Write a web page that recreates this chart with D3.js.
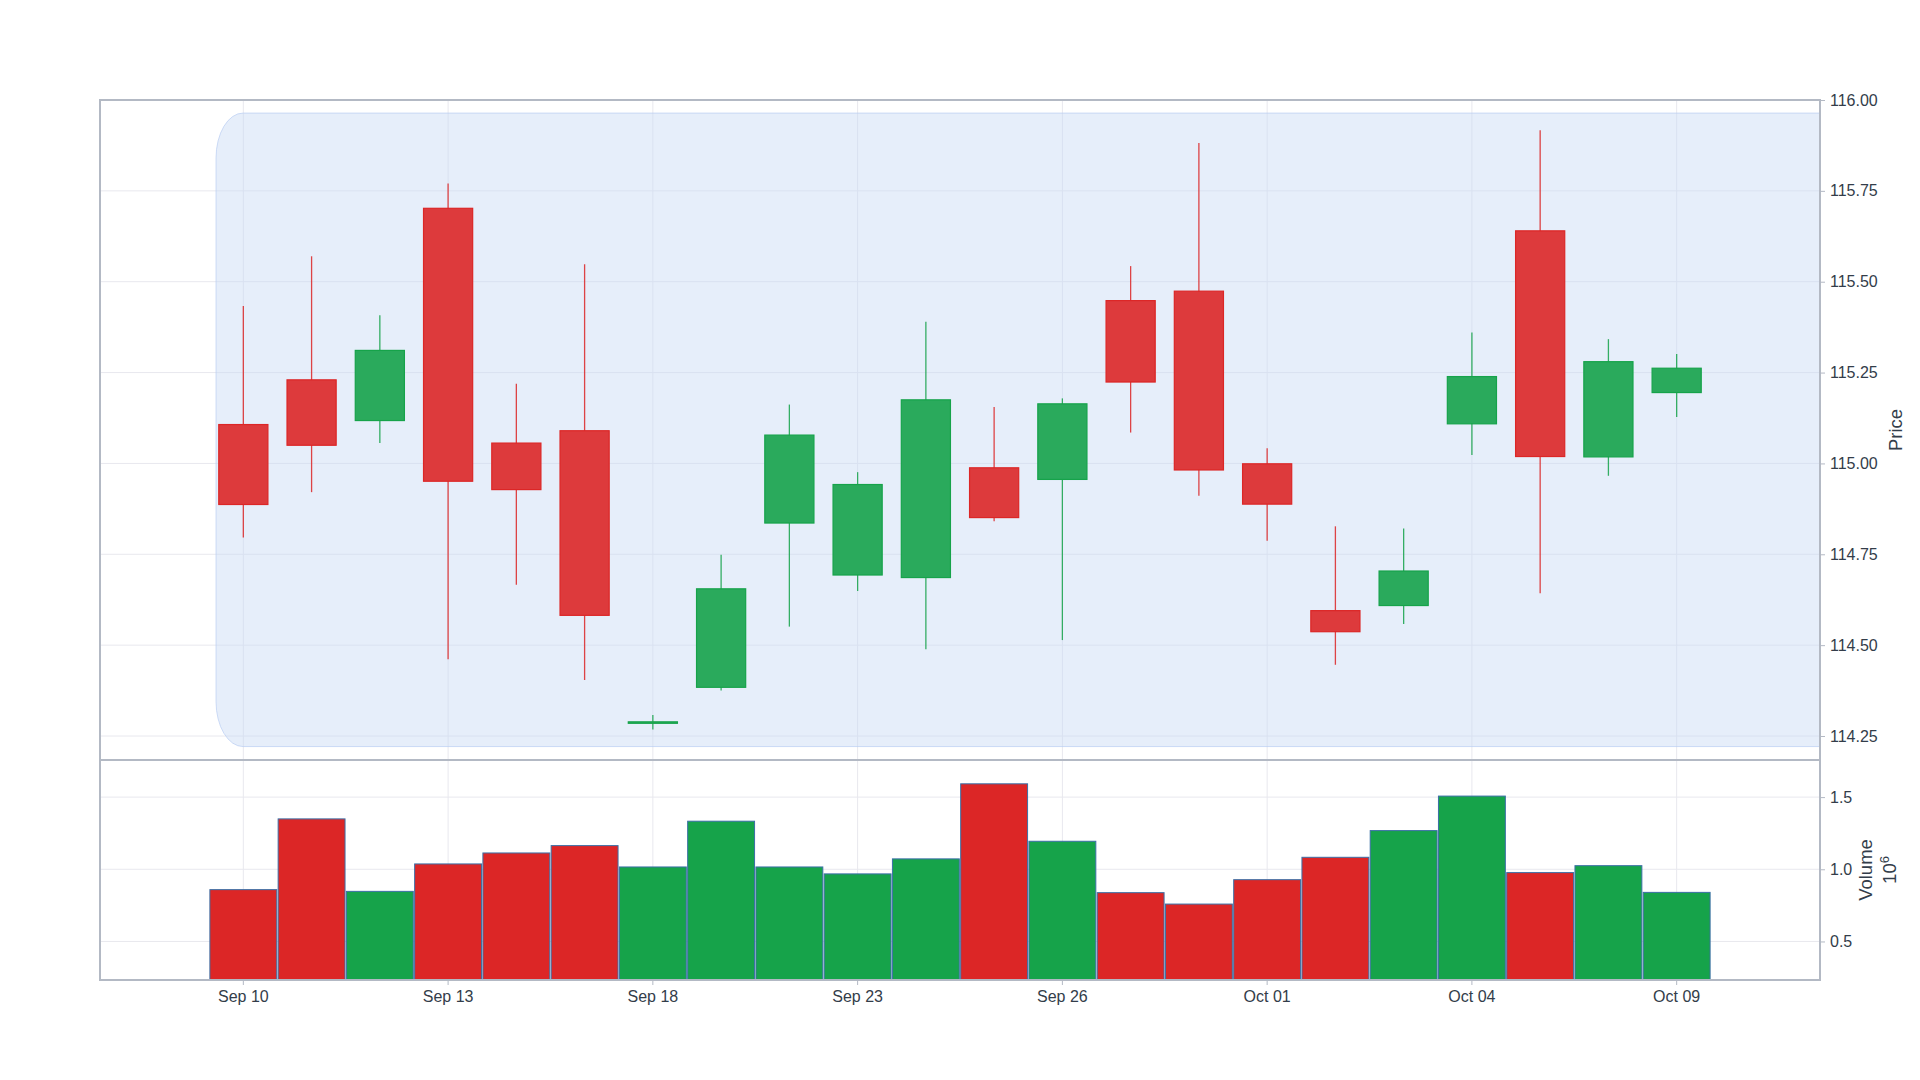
<!DOCTYPE html>
<html>
<head>
<meta charset="utf-8">
<script src="https://d3js.org/d3.v7.min.js"></script>
<style>
    html, body { margin: 0; padding: 0; background: #fff; }
    svg { display: block; font-family: "Liberation Sans", Arial, Helvetica, sans-serif; }
</style>
</head>
<body>
<div id="chart"></div>
<script>
// Trading days (category axis, weekends skipped)
const dates = [
    '2019-09-10', '2019-09-11', '2019-09-12', '2019-09-13', '2019-09-16', '2019-09-17',
    '2019-09-18', '2019-09-19', '2019-09-20', '2019-09-23', '2019-09-24', '2019-09-25',
    '2019-09-26', '2019-09-27', '2019-09-30', '2019-10-01', '2019-10-02', '2019-10-03',
    '2019-10-04', '2019-10-07', '2019-10-08', '2019-10-09'
];

const open = [115.107, 115.230, 115.118, 115.702, 115.056, 115.090, 114.285, 114.384, 114.836, 114.693, 114.686,
              114.988, 114.956, 115.448, 115.474, 114.999, 114.595, 114.609, 115.109, 115.640, 115.018, 115.195];
const high = [115.433, 115.570, 115.408, 115.770, 115.219, 115.548, 114.308, 114.749, 115.162, 114.976, 115.390,
              115.155, 115.179, 115.543, 115.882, 115.042, 114.827, 114.821, 115.360, 115.917, 115.342, 115.301];
const low = [114.796, 114.921, 115.056, 114.461, 114.666, 114.404, 114.268, 114.375, 114.551, 114.649, 114.489,
             114.841, 114.514, 115.085, 114.911, 114.787, 114.446, 114.558, 115.023, 114.643, 114.966, 115.128];
const close = [114.887, 115.050, 115.311, 114.951, 114.928, 114.582, 114.289, 114.655, 115.078, 114.942, 115.175,
               114.851, 115.164, 115.224, 114.982, 114.888, 114.537, 114.704, 115.239, 115.019, 115.280, 115.262];
const volume = [859000, 1349000, 847000, 1037000, 1113000, 1164000, 1016000, 1333000, 1016000, 968000, 1072000,
                1592000, 1194000, 838000, 759000, 928000, 1083000, 1268000, 1507000, 977000, 1025000, 840000];

// Axis ticks
const priceTicks = [114.25, 114.5, 114.75, 115, 115.25, 115.5, 115.75, 116];
const volumeTicks = [500000, 1000000, 1500000];
const dateTickEvery = 3;

// Range band padding around the min low / max high
const bandPad = 0.047;

const COLORS = {
    up: '#2aaa5c', upLine: '#16a34a',
    down: '#dd3a3c', downLine: '#dc2626',
    volUp: '#16a34a', volDown: '#dc2626', volEdge: '#3b6fa6',
    grid: '#e8e8ee', axis: '#b3b9c4', text: '#333d4a'
};

/**
 * Draw the candlestick + volume chart
 */
function drawChart(container) {
    const width = 1920, height = 1080;
    const margin = { left: 100, right: 100, top: 100 };
    const priceBottom = 760;
    const volumeBottom = 980;
    const plotRight = width - margin.right;

    const svg = d3.select(container)
        .append('svg')
        .attr('width', width)
        .attr('height', height);

    // Scales
    const x = d3.scaleBand()
        .domain(dates)
        .range([margin.left, plotRight])
        .paddingInner(0)
        .paddingOuter(1.6);
    const cx = d => x(d) + x.bandwidth() / 2;

    const y = d3.scaleLinear()
        .domain([114.184, 116.0])
        .range([priceBottom, margin.top]);

    const yVol = d3.scaleLinear()
        .domain([233000, 1757000])
        .range([volumeBottom, priceBottom]);

    const parse = d3.timeParse('%Y-%m-%d');
    const fmt = d3.timeFormat('%b %d');
    const dateTicks = dates.filter((d, i) => i % dateTickEvery === 0);

    const candles = dates.map((d, i) => ({
        date: d, o: open[i], h: high[i], l: low[i], c: close[i], v: volume[i], up: close[i] >= open[i]
    }));

    const defs = svg.append('defs');
    defs.append('clipPath').attr('id', 'clip-price')
        .append('rect')
        .attr('x', margin.left).attr('y', margin.top)
        .attr('width', plotRight - margin.left).attr('height', priceBottom - margin.top);
    defs.append('clipPath').attr('id', 'clip-vol')
        .append('rect')
        .attr('x', margin.left).attr('y', priceBottom)
        .attr('width', plotRight - margin.left).attr('height', volumeBottom - priceBottom);

    // Grid lines
    const grid = svg.append('g');
    grid.selectAll('.vgrid')
        .data(dateTicks)
        .enter()
        .append('line')
        .attr('x1', d => cx(d)).attr('x2', d => cx(d))
        .attr('y1', margin.top).attr('y2', volumeBottom)
        .attr('stroke', COLORS.grid).attr('stroke-width', 1);
    grid.selectAll('.pgrid')
        .data(priceTicks.filter(t => t < 116))
        .enter()
        .append('line')
        .attr('x1', margin.left).attr('x2', plotRight)
        .attr('y1', d => y(d)).attr('y2', d => y(d))
        .attr('stroke', COLORS.grid).attr('stroke-width', 1);
    grid.selectAll('.vgridv')
        .data(volumeTicks)
        .enter()
        .append('line')
        .attr('x1', margin.left).attr('x2', plotRight)
        .attr('y1', d => yVol(d)).attr('y2', d => yVol(d))
        .attr('stroke', COLORS.grid).attr('stroke-width', 1);

    // Range band (rounded on the left, runs off the right edge)
    const bandTop = y(d3.max(high) + bandPad);
    const bandBot = y(d3.min(low) - bandPad);
    const bx0 = cx(dates[0]) - x.step() * 0.4;
    const bx1 = plotRight + 40;
    const rx = 27, ry = 45;
    const bandPath = `M${bx0 + rx},${bandTop} L${bx1},${bandTop} L${bx1},${bandBot} L${bx0 + rx},${bandBot}`
        + ` A${rx},${ry} 0 0 1 ${bx0},${bandBot - ry} L${bx0},${bandTop + ry}`
        + ` A${rx},${ry} 0 0 1 ${bx0 + rx},${bandTop} Z`;
    svg.append('path')
        .attr('clip-path', 'url(#clip-price)')
        .attr('d', bandPath)
        .attr('fill', 'rgba(200,218,245,0.45)')
        .attr('stroke', 'rgba(185,205,242,0.7)')
        .attr('stroke-width', 1);

    // Candles
    const cg = svg.append('g').attr('clip-path', 'url(#clip-price)');
    const bodyW = x.step() * 0.72;

    cg.selectAll('.wick')
        .data(candles)
        .enter()
        .append('line')
        .attr('x1', d => cx(d.date)).attr('x2', d => cx(d.date))
        .attr('y1', d => y(d.h)).attr('y2', d => y(d.l))
        .attr('stroke', d => d.up ? COLORS.upLine : COLORS.downLine)
        .attr('stroke-width', 1.3)
        .attr('opacity', 0.85);

    cg.selectAll('.body')
        .data(candles)
        .enter()
        .append('rect')
        .attr('x', d => cx(d.date) - bodyW / 2)
        .attr('y', d => y(Math.max(d.o, d.c)))
        .attr('width', bodyW)
        .attr('height', d => Math.max(1, y(Math.min(d.o, d.c)) - y(Math.max(d.o, d.c))))
        .attr('fill', d => d.up ? COLORS.up : COLORS.down)
        .attr('stroke', d => d.up ? COLORS.upLine : COLORS.downLine)
        .attr('stroke-width', 1.2);

    // Volume bars
    const barW = x.step() * 0.98;
    svg.append('g').attr('clip-path', 'url(#clip-vol)')
        .selectAll('.vbar')
        .data(candles)
        .enter()
        .append('rect')
        .attr('x', d => cx(d.date) - barW / 2)
        .attr('y', d => yVol(d.v))
        .attr('width', barW)
        .attr('height', d => volumeBottom + 2 - yVol(d.v))
        .attr('fill', d => d.up ? COLORS.volUp : COLORS.volDown)
        .attr('stroke', COLORS.volEdge)
        .attr('stroke-width', 1);

    // Pane frames
    [[margin.top, priceBottom], [priceBottom, volumeBottom]].forEach(([t, b]) => {
        svg.append('rect')
            .attr('x', margin.left).attr('y', t)
            .attr('width', plotRight - margin.left).attr('height', b - t)
            .attr('fill', 'none')
            .attr('stroke', COLORS.axis)
            .attr('stroke-width', 2);
    });

    // Axes
    const styleAxis = g => {
        g.select('.domain').remove();
        g.selectAll('.tick line').attr('stroke', COLORS.axis).attr('stroke-width', 1);
        g.selectAll('.tick text')
            .attr('fill', COLORS.text)
            .attr('font-size', '16px')
            .attr('font-family', '"Liberation Sans", Arial, Helvetica, sans-serif');
    };

    svg.append('g')
        .attr('transform', `translate(0,${volumeBottom})`)
        .call(d3.axisBottom(x).tickValues(dateTicks).tickFormat(d => fmt(parse(d))).tickSize(5).tickPadding(6))
        .call(styleAxis);

    svg.append('g')
        .attr('transform', `translate(${plotRight},0)`)
        .call(d3.axisRight(y).tickValues(priceTicks).tickFormat(d3.format('.2f')).tickSize(5).tickPadding(5))
        .call(styleAxis);

    svg.append('g')
        .attr('transform', `translate(${plotRight},0)`)
        .call(d3.axisRight(yVol).tickValues(volumeTicks).tickFormat(d => d3.format('.1f')(d / 1e6)).tickSize(5).tickPadding(5))
        .call(styleAxis);

    // Axis titles
    svg.append('text')
        .attr('transform', `translate(1902,${(margin.top + priceBottom) / 2}) rotate(-90)`)
        .attr('text-anchor', 'middle')
        .attr('font-size', '18.5px')
        .attr('fill', COLORS.text)
        .text('Price');

    const volTitle = svg.append('text')
        .attr('transform', `translate(1872,${(priceBottom + volumeBottom) / 2}) rotate(-90)`)
        .attr('text-anchor', 'middle')
        .attr('font-size', '18.5px')
        .attr('fill', COLORS.text);
    volTitle.append('tspan').attr('x', 0).attr('dy', 0).text('Volume');
    const l2 = volTitle.append('tspan').attr('x', 0).attr('dy', 24);
    l2.append('tspan').text('10');
    l2.append('tspan').attr('font-size', '13px').attr('dy', -7).text('6');
}

drawChart(document.getElementById('chart'));
</script>
</body>
</html>
